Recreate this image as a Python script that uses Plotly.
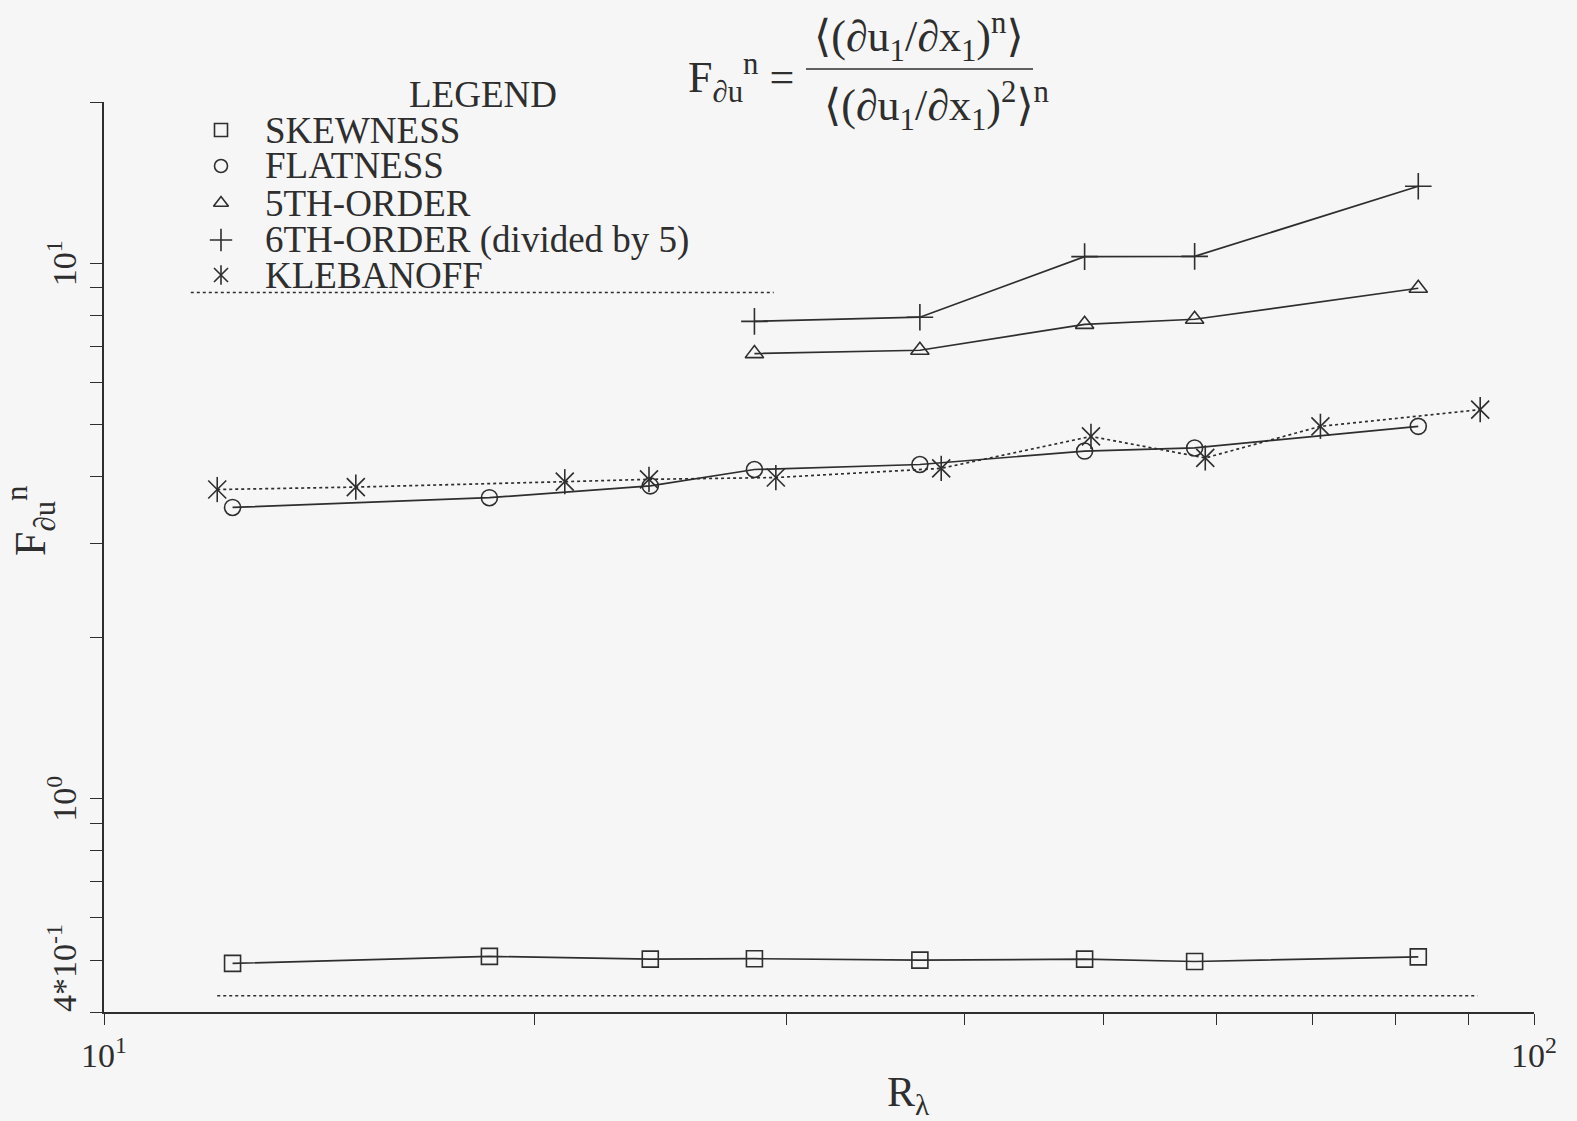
import math
import plotly.graph_objects as go

# Taylor-microscale Reynolds number for each measurement station
rl = [12.3, 18.6, 24.1, 28.5, 37.2, 48.5, 57.9, 83.0]
rl_high = [28.5, 37.2, 48.5, 57.9, 83.0]

# Normalised velocity-derivative moments
skewness = [0.493, 0.508, 0.502, 0.503, 0.500, 0.502, 0.497, 0.507]
flatness = [3.50, 3.65, 3.84, 4.12, 4.21, 4.46, 4.52, 4.96]
fifth_order = [6.78, 6.88, 7.69, 7.86, 8.98]
sixth_order_div5 = [7.79, 7.93, 10.29, 10.30, 13.92]

# Klebanoff flatness data
kleb_rl = [12.0, 15.0, 21.0, 24.05, 29.5, 38.5, 49.0, 58.9, 70.9, 91.7]
kleb_flatness = [3.78, 3.82, 3.91, 3.95, 3.98, 4.14, 4.75, 4.33, 4.96, 5.33]

# Dotted guide lines: (x start, x end, level)
guide_lines = [(11.5, 29.4, 8.82), (12.0, 91.3, 0.429)]

legend_labels = ["SKEWNESS", "FLATNESS", "5TH-ORDER", "6TH-ORDER (divided by 5)", "KLEBANOFF"]

x_tick_vals = [10, 20, 30, 40, 50, 60, 70, 80, 90, 100]
y_tick_vals = [0.4, 0.5, 0.6, 0.7, 0.8, 0.9, 1, 2, 3, 4, 5, 6, 7, 8, 9, 10, 20]
x_tick_labels = {10: "10<sup>1</sup>", 100: "10<sup>2</sup>"}
y_tick_labels = {10: "10<sup>1</sup>", 1: "10<sup>0</sup>", 0.4: "4*10<sup>-1</sup>"}

# ---- page geometry ----
W, H = 1577, 1121
L, R, T, B = 104, 43, 102, 109
PW, PH = W - L - R, H - T - B


def px(x):
    return (x - L) / PW


def py(y):
    return (H - B - y) / PH


INK = "#2e2e2e"
SERIF = "Liberation Serif, Times New Roman, DejaVu Serif, serif"

fig = go.Figure()

line_style = dict(color=INK, width=1.7)


def mk(symbol, size):
    return dict(symbol=symbol, size=size, color=INK, line=dict(color=INK, width=1.6))


fig.add_trace(go.Scatter(x=rl, y=skewness, mode="lines+markers", line=line_style,
                         marker=mk("square-open", 16)))
fig.add_trace(go.Scatter(x=rl, y=flatness, mode="lines+markers", line=line_style,
                         marker=mk("circle-open", 16)))
fig.add_trace(go.Scatter(x=rl_high, y=fifth_order, mode="lines+markers", line=line_style,
                         marker=mk("triangle-up-open", 16)))
fig.add_trace(go.Scatter(x=rl_high, y=sixth_order_div5, mode="lines+markers", line=line_style,
                         marker=mk("cross-thin-open", 19)))
fig.add_trace(go.Scatter(x=kleb_rl, y=kleb_flatness, mode="lines+markers",
                         line=dict(color=INK, width=1.7, dash="dot"),
                         marker=mk("x-thin-open", 18)))
fig.add_trace(go.Scatter(x=kleb_rl, y=kleb_flatness, mode="markers",
                         marker=mk("line-ns-open", 18)))

# dotted guide lines
for x0, x1, lev in guide_lines:
    fig.add_trace(go.Scatter(x=[x0, x1], y=[lev, lev], mode="lines",
                             line=dict(color=INK, width=1.6, dash="dot")))

# ---- hand-built legend (markers on a pixel-space overlay) ----
leg_rows = [130, 166, 203, 240, 275]
leg_symbols = [("square-open", 13), ("circle-open", 13), ("triangle-up-open", 13),
               ("cross-thin-open", 16), ("x-thin-open", 14)]
for (sym, size), yy in zip(leg_symbols, leg_rows):
    fig.add_trace(go.Scatter(x=[221], y=[yy], mode="markers", xaxis="x2", yaxis="y2",
                             marker=mk(sym, size), cliponaxis=False))
fig.add_trace(go.Scatter(x=[221], y=[leg_rows[-1]], mode="markers", xaxis="x2", yaxis="y2",
                         marker=mk("line-ns-open", 14), cliponaxis=False))

annotations = []
annotations.append(dict(text="LEGEND", xref="paper", yref="paper", x=px(483), y=py(94),
                        xanchor="center", yanchor="middle", showarrow=False,
                        font=dict(family=SERIF, size=37, color=INK)))
for lab, yy in zip(legend_labels, leg_rows):
    annotations.append(dict(text=lab, xref="paper", yref="paper", x=px(263), y=py(yy),
                            xanchor="left", yanchor="middle", showarrow=False,
                            font=dict(family=SERIF, size=37, color=INK)))

# ---- formula heading ----
ffont = dict(family=SERIF, size=44, color=INK)
annotations.append(dict(text="F<sub>∂u</sub><sup>n</sup> =", xref="paper", yref="paper",
                        x=px(796), y=py(78), xanchor="right", yanchor="middle",
                        showarrow=False, font=ffont))
annotations.append(dict(text="⟨(∂u<sub>1</sub>/∂x<sub>1</sub>)<sup>n</sup>⟩", xref="paper",
                        yref="paper", x=px(919), y=py(37), xanchor="center",
                        yanchor="middle", showarrow=False, font=ffont))
annotations.append(dict(text="⟨(∂u<sub>1</sub>/∂x<sub>1</sub>)<sup>2</sup>⟩<sup>n</sup>",
                        xref="paper", yref="paper", x=px(936), y=py(106),
                        xanchor="center", yanchor="middle", showarrow=False, font=ffont))
fig.add_shape(type="line", xref="paper", yref="paper", x0=px(806), x1=px(1033),
              y0=py(69), y1=py(69), line=dict(color=INK, width=1.4))

# ---- tick labels ----
tfont = dict(family=SERIF, size=34, color=INK)
for v, lab in x_tick_labels.items():
    annotations.append(dict(text=lab, xref="x", yref="paper", x=math.log10(v), y=0,
                            xanchor="center", yanchor="top", yshift=-18,
                            showarrow=False, font=tfont))
for v, lab in y_tick_labels.items():
    annotations.append(dict(text=lab, xref="paper", yref="y", x=0, y=math.log10(v),
                            xanchor="right", yanchor="bottom" if v == 0.4 else "middle",
                            xshift=-19, yshift=-2 if v == 0.4 else 0,
                            textangle=-90, showarrow=False, font=tfont))

# ---- axis titles ----
annotations.append(dict(text="R<sub>λ</sub>", xref="paper", yref="paper", x=px(908), y=py(1095),
                        xanchor="center", yanchor="middle", showarrow=False,
                        font=dict(family=SERIF, size=42, color=INK)))
annotations.append(dict(text="F<sub>∂u</sub><sup>n</sup>", xref="paper", yref="paper",
                        x=px(31), y=py(521), xanchor="center", yanchor="middle",
                        textangle=-90, showarrow=False,
                        font=dict(family=SERIF, size=44, color=INK)))

fig.update_layout(
    width=W, height=H,
    margin=dict(l=L, r=R, t=T, b=B),
    paper_bgcolor="#f6f6f6", plot_bgcolor="#f6f6f6",
    showlegend=False,
    annotations=annotations,
    xaxis=dict(type="log", range=[1, 2], tickvals=x_tick_vals, showticklabels=False,
               ticks="outside", ticklen=11, tickwidth=1.4, tickcolor=INK,
               showline=True, linecolor=INK, linewidth=1.8, showgrid=False,
               zeroline=False),
    yaxis=dict(type="log", range=[math.log10(0.4), math.log10(20)], tickvals=y_tick_vals,
               showticklabels=False, ticks="outside", ticklen=12, tickwidth=1.4,
               tickcolor=INK, showline=True, linecolor=INK, linewidth=1.8,
               showgrid=False, zeroline=False),
    xaxis2=dict(overlaying="x", range=[L, W - R], visible=False, fixedrange=True),
    yaxis2=dict(overlaying="y", range=[H - B, T], visible=False, fixedrange=True),
)

fig.write_html("out.html")
